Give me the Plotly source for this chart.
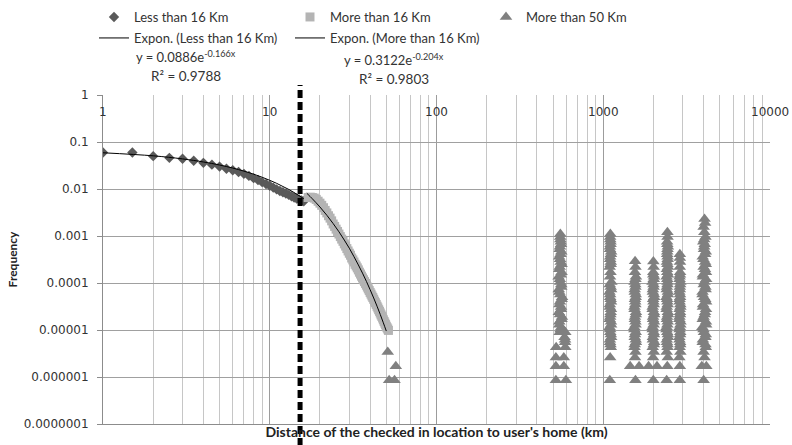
import math
import plotly.graph_objects as go

# ---------------- data ----------------
LT16_X = [1, 1.5, 2, 2.5, 3, 3.5, 4, 4.5, 5, 5.5, 6, 6.5, 7, 7.5, 8, 8.5, 9, 9.5,
          10, 10.5, 11, 11.5, 12, 12.5, 13, 13.5, 14, 14.5, 15, 15.5, 16]
LT16_Y = [0.060, 0.060, 0.050, 0.046, 0.044, 0.040, 0.036, 0.033, 0.030, 0.027,
          0.025, 0.023, 0.021, 0.019, 0.017, 0.0155, 0.014, 0.0128, 0.0117, 0.0107,
          0.0098, 0.0091, 0.0085, 0.0080, 0.0075, 0.0070, 0.0066, 0.0063, 0.0060,
          0.0057, 0.0055]

GT16_X = [17, 17.5, 18, 18.5, 19, 19.5, 20, 20.5, 21, 21.5, 22, 22.5, 23, 23.5,
          24, 24.5, 25, 25.5, 26, 26.5, 27, 27.5, 28, 28.5, 29, 29.5, 30, 30.5,
          31, 31.5, 32, 32.5, 33, 33.5, 34, 34.5, 35, 35.5, 36, 36.5, 37, 37.5,
          38, 38.5, 39, 39.5, 40, 40.5, 41, 41.5, 42, 42.5, 43, 43.5, 44, 44.5,
          45, 45.5, 46, 46.5, 47, 47.5, 48, 48.5, 49, 49.5, 50, 50.5, 51, 51.5]
GT16_Y = [0.0066, 0.0067, 0.0066, 0.0064, 0.0060, 0.0055, 0.0050, 0.0045, 0.0040,
          0.0035, 0.0031, 0.0027, 0.0024, 0.0021, 0.0018, 0.0016, 0.0014, 0.00125,
          0.0011, 0.00097, 0.00086, 0.00077, 0.00068, 0.00061, 0.00054, 0.00048,
          0.00043, 0.00039, 0.00034, 0.00031, 0.00028, 0.00025, 0.00023, 0.00021,
          0.00019, 0.00017, 0.000155, 0.00014, 0.000128, 0.000117, 0.000107,
          0.000098, 0.00009, 0.000082, 0.000075, 0.000069, 0.000063, 0.000058,
          0.000053, 0.000049, 0.000045, 0.000041, 0.000038, 0.000035, 0.000032,
          0.0000295, 0.000027, 0.000025, 0.000023, 0.000021, 0.0000195, 0.000018,
          0.0000165, 0.0000152, 0.000014, 0.000013, 0.000012, 0.0000112,
          0.0000105, 0.0000098]

# "More than 50 Km" clusters (x in km, y frequency)
GT50_C0_X = [51, 57, 52, 56]
GT50_C0_Y = [3.4e-6, 1.7e-6, 8.5e-7, 8.5e-7]

GT50_C1_X = [520, 597, 520, 580, 520, 580, 522, 592, 590, 586, 592, 548, 560, 545,
             565, 542, 558, 550, 566, 545, 560, 552, 540, 562, 548, 556, 544, 560,
             550, 556, 552, 553,
             590, 555, 545, 562, 550, 558, 546, 563, 552, 541, 560, 549, 557, 545,
             562, 551, 555, 548, 558, 553]
GT50_C1_Y = [8.5e-7, 8.5e-7, 1.7e-6, 1.7e-6, 2.6e-6, 2.6e-6, 4.3e-6, 4.3e-6, 5.5e-6,
             7e-6, 9e-6, 9e-6, 1.15e-5, 1.5e-5, 1.9e-5, 2.4e-5, 3.1e-5, 4e-5, 5e-5,
             6.4e-5, 8.2e-5, 1.05e-4, 1.35e-4, 1.7e-4, 2.2e-4, 2.8e-4, 3.6e-4,
             4.6e-4, 5.9e-4, 7.5e-4, 9.5e-4, 1.1e-3,
             6.2e-6, 1.02e-5, 1.3e-5, 1.7e-5, 2.15e-5, 2.75e-5, 3.5e-5, 4.5e-5,
             5.7e-5, 7.3e-5, 9.3e-5, 1.2e-4, 1.5e-4, 1.95e-4, 2.5e-4, 3.2e-4,
             4.1e-4, 5.2e-4, 6.7e-4, 8.4e-4]

GT50_C2_X = [1095, 1100, 1110, 1098, 1115, 1102, 1092, 1112, 1100, 1108, 1095, 1113,
             1100, 1090, 1108, 1118, 1098, 1105, 1093, 1110, 1100, 1115, 1097, 1106,
             1100, 1103,
             1105, 1096, 1110, 1100, 1114, 1094, 1104, 1112, 1096, 1108, 1100, 1115,
             1095, 1108, 1100, 1112, 1098, 1106, 1101]
GT50_C2_Y = [8.5e-7, 2.6e-6, 4.3e-6, 5.5e-6, 7e-6, 9e-6, 1.15e-5, 1.5e-5, 1.9e-5,
             2.4e-5, 3.1e-5, 4e-5, 5e-5, 6.4e-5, 8.2e-5, 1.05e-4, 1.35e-4, 1.7e-4,
             2.2e-4, 2.8e-4, 3.6e-4, 4.6e-4, 5.9e-4, 7.5e-4, 9.5e-4, 1.1e-3,
             4.9e-6, 6.2e-6, 8e-6, 1.02e-5, 1.3e-5, 1.7e-5, 2.15e-5, 2.75e-5, 3.5e-5,
             4.5e-5, 5.7e-5, 7.3e-5, 9.3e-5, 2.5e-4, 3.2e-4, 4.1e-4, 5.2e-4,
             6.7e-4, 8.4e-4]

GT50_C3_X = [1560, 1450, 1640, 1550, 1560, 1540, 1570, 1545, 1565, 1535, 1560, 1550,
             1570, 1540, 1555, 1565, 1545, 1560, 1540, 1570, 1550, 1560, 1552,
             1545, 1565, 1550, 1538, 1562, 1548, 1568, 1542, 1558, 1550, 1565,
             1545, 1556, 1560]
GT50_C3_Y = [8.5e-7, 1.7e-6, 1.7e-6, 2.6e-6, 3.4e-6, 4.3e-6, 5.5e-6, 7e-6, 9e-6,
             1.15e-5, 1.5e-5, 1.9e-5, 2.4e-5, 3.1e-5, 4e-5, 5e-5, 6.4e-5, 8.2e-5,
             1.05e-4, 1.35e-4, 1.7e-4, 2.2e-4, 2.9e-4,
             4.9e-6, 6.2e-6, 8e-6, 1.02e-5, 1.3e-5, 1.7e-5, 2.15e-5, 2.75e-5,
             3.5e-5, 4.5e-5, 5.7e-5, 7.3e-5, 9.3e-5, 1.2e-4]

GT50_C4_X = [1995, 1870, 2100, 1990, 2010, 1980, 2020, 1985, 2005, 1975, 2015, 1990,
             2010, 1980, 2000, 2020, 1985, 2005, 1975, 2015, 1995, 2005, 1998,
             2010, 1985, 2015, 1980, 2005, 1990, 2020, 1978, 2008, 1992, 2012,
             1985, 2000, 2008, 1995]
GT50_C4_Y = [8.5e-7, 1.7e-6, 1.7e-6, 2.6e-6, 3.4e-6, 4.3e-6, 5.5e-6, 7e-6, 9e-6,
             1.15e-5, 1.5e-5, 1.9e-5, 2.4e-5, 3.1e-5, 4e-5, 5e-5, 6.4e-5, 8.2e-5,
             1.05e-4, 1.35e-4, 1.7e-4, 2.2e-4, 2.85e-4,
             4.9e-6, 6.2e-6, 8e-6, 1.02e-5, 1.3e-5, 1.7e-5, 2.15e-5, 2.75e-5,
             3.5e-5, 4.5e-5, 5.7e-5, 7.3e-5, 9.3e-5, 1.2e-4, 1.5e-4]

GT50_C5_X = [2400, 2420, 2440, 2400, 2430, 2410, 2445, 2420, 2400, 2435, 2415, 2440,
             2405, 2425, 2395, 2440, 2410, 2430, 2400, 2420, 2445, 2410, 2430, 2420,
             2440, 2415, 2430, 2425,
             2430, 2405, 2440, 2395, 2425, 2410, 2445, 2400, 2435, 2415, 2440,
             2405, 2430, 2420, 2445, 2410, 2425, 2435, 2418, 2428, 2422]
GT50_C5_Y = [8.5e-7, 1.7e-6, 2.6e-6, 3.4e-6, 4.3e-6, 5.5e-6, 7e-6, 9e-6, 1.15e-5,
             1.5e-5, 1.9e-5, 2.4e-5, 3.1e-5, 4e-5, 5e-5, 6.4e-5, 8.2e-5, 1.05e-4,
             1.35e-4, 1.7e-4, 2.2e-4, 2.8e-4, 3.6e-4, 4.6e-4, 5.9e-4, 7.5e-4,
             9.5e-4, 1.2e-3,
             4.9e-6, 6.2e-6, 8e-6, 1.02e-5, 1.3e-5, 1.7e-5, 2.15e-5, 2.75e-5,
             3.5e-5, 4.5e-5, 5.7e-5, 7.3e-5, 9.3e-5, 1.2e-4, 1.5e-4, 1.95e-4,
             2.5e-4, 3.2e-4, 4.1e-4, 5.2e-4, 6.7e-4]

GT50_C6_X = [2880, 2880, 2860, 2900, 2870, 2890, 2860, 2895, 2875, 2905, 2865, 2885,
             2900, 2870, 2890, 2860, 2880, 2900, 2870, 2890, 2875, 2885, 2880, 2880,
             2895, 2865, 2890, 2870, 2900, 2862, 2888, 2872, 2898, 2868, 2886,
             2878, 2892, 2870, 2884]
GT50_C6_Y = [8.5e-7, 1.7e-6, 2.6e-6, 3.4e-6, 4.3e-6, 5.5e-6, 7e-6, 9e-6, 1.15e-5,
             1.5e-5, 1.9e-5, 2.4e-5, 3.1e-5, 4e-5, 5e-5, 6.4e-5, 8.2e-5, 1.05e-4,
             1.35e-4, 1.7e-4, 2.2e-4, 2.8e-4, 3.4e-4, 4.1e-4,
             4.9e-6, 6.2e-6, 8e-6, 1.02e-5, 1.3e-5, 1.7e-5, 2.15e-5, 2.75e-5,
             3.5e-5, 4.5e-5, 5.7e-5, 7.3e-5, 9.3e-5, 1.2e-4, 1.5e-4]

GT50_C7_X = [4000, 3900, 4150, 4050, 4000, 4120, 3950, 4100, 4020, 3930, 4130, 4000,
             4080, 3960, 4140, 4020, 3940, 4100, 4050, 3960, 4130, 4000, 4080, 3950,
             4120, 4030, 3980, 4100, 4040, 4000, 4080, 4050,
             4100, 3960, 4120, 3990, 4140, 3950, 4060, 4130, 3970, 4090, 3940,
             4110, 4010, 4140, 3960, 4070, 4120, 3990, 4080, 4020, 4060, 4030]
GT50_C7_Y = [8.5e-7, 1.7e-6, 1.7e-6, 2.6e-6, 3.4e-6, 4.3e-6, 5.5e-6, 7e-6, 9e-6,
             1.15e-5, 1.5e-5, 1.9e-5, 2.4e-5, 3.1e-5, 4e-5, 5e-5, 6.4e-5, 8.2e-5,
             1.05e-4, 1.35e-4, 1.7e-4, 2.2e-4, 2.8e-4, 3.6e-4, 4.6e-4, 5.9e-4,
             7.5e-4, 9.5e-4, 1.2e-3, 1.55e-3, 1.9e-3, 2.3e-3,
             4.9e-6, 6.2e-6, 8e-6, 1.02e-5, 1.3e-5, 1.7e-5, 2.15e-5, 2.75e-5,
             3.5e-5, 4.5e-5, 5.7e-5, 7.3e-5, 9.3e-5, 1.2e-4, 1.5e-4, 1.95e-4,
             2.5e-4, 3.2e-4, 4.1e-4, 5.2e-4, 6.7e-4, 8.4e-4]

TREND1_X = [1, 2, 3, 4, 5, 6, 7, 8, 9, 10, 11, 12, 13, 14, 15, 16]
TREND1_Y = [0.0590, 0.0508, 0.0437, 0.0376, 0.0324, 0.0279, 0.0240, 0.0207, 0.0178,
            0.0153, 0.0132, 0.0113, 0.0098, 0.0084, 0.0072, 0.0062]

TREND2_X = [16.7, 18, 20, 22, 24, 26, 28, 30, 32, 34, 36, 38, 40, 42, 44, 46, 48, 50]
TREND2_Y = [0.00809, 0.00620, 0.00414, 0.00276, 0.00184, 0.00123, 0.00082, 0.00055,
            0.000363, 0.000242, 0.000162, 0.000108, 0.000072, 0.000048, 0.000032,
            0.0000214, 0.0000142, 0.0000095]

X_TICKS = [1, 10, 100, 1000, 10000]
X_TICK_LABELS = ["1", "10", "100", "1000", "10000"]
Y_TICKS = [1, 0.1, 0.01, 0.001, 0.0001, 0.00001, 0.000001, 0.0000001]
Y_TICK_LABELS = ["1", "0.1", "0.01", "0.001", "0.0001", "0.00001", "0.000001", "0.0000001"]
THRESHOLD_X = 15.2

EQ1 = ("y = 0.0886e<sup>-0.166x</sup>", "R² = 0.9788")
EQ2 = ("y = 0.3122e<sup>-0.204x</sup>", "R² = 0.9803")

# ---------------- figure ----------------
FONT = "Lato"
TICKFONT = "DejaVu Sans"
TXT = "#333333"

# plot-area geometry in page pixels
L, R, T, B = 103, 770, 95, 424
PW, PH = R - L, B - T


def px(xp):
    return (xp - L) / PW


def py(yp):
    return (B - yp) / PH


fig = go.Figure()

gt50_x = (GT50_C0_X + GT50_C1_X + GT50_C2_X + GT50_C3_X + GT50_C4_X + GT50_C5_X
          + GT50_C6_X + GT50_C7_X)
gt50_y = (GT50_C0_Y + GT50_C1_Y + GT50_C2_Y + GT50_C3_Y + GT50_C4_Y + GT50_C5_Y
          + GT50_C6_Y + GT50_C7_Y)

fig.add_trace(go.Scatter(x=LT16_X, y=LT16_Y, mode="markers", name="Less than 16 Km",
                         marker=dict(symbol="diamond", size=8, color="#5a5a5a"),
                         legend="legend"))
fig.add_trace(go.Scatter(x=GT16_X, y=GT16_Y, mode="markers", name="More than 16 Km",
                         marker=dict(symbol="square", size=9, color="#b4b4b4"),
                         legend="legend"))
fig.add_trace(go.Scatter(x=gt50_x, y=gt50_y, mode="markers", name="More than 50 Km",
                         marker=dict(symbol="triangle-up", size=11, color="#808080"),
                         legend="legend"))
fig.add_trace(go.Scatter(x=TREND1_X, y=TREND1_Y, mode="lines",
                         name="Expon. (Less than 16 Km)",
                         line=dict(color="black", width=1, shape="spline"),
                         legend="legend2"))
fig.add_trace(go.Scatter(x=TREND2_X, y=TREND2_Y, mode="lines",
                         name="Expon. (More than 16 Km)",
                         line=dict(color="black", width=1, shape="spline"),
                         legend="legend2"))

minor_x = [m * 10 ** e for e in range(0, 4) for m in range(2, 10)]

fig.update_xaxes(type="log", range=[0, 4], showgrid=True, gridcolor="#9c9c9c",
                 gridwidth=1, tickvals=X_TICKS, showticklabels=False, ticks="",
                 minor=dict(tickvals=minor_x, showgrid=True, gridcolor="#c6c6c6",
                            gridwidth=1, ticks=""),
                 showline=True, linecolor="#8c8c8c", linewidth=1, zeroline=False,
                 title=dict(text="<b>Distance of the checked in location to user's home (km)</b>",
                            font=dict(family=FONT, size=14, color="#222"), standoff=3))
fig.update_yaxes(type="log", range=[-7, 0], showgrid=True, gridcolor="#a0a0a0",
                 gridwidth=1, tickvals=Y_TICKS, ticktext=Y_TICK_LABELS,
                 ticks="outside", ticklen=5, tickcolor="#8c8c8c",
                 tickfont=dict(family=TICKFONT, size=12, color=TXT),
                 ticklabelstandoff=6,
                 showline=True, linecolor="#8c8c8c", linewidth=1, zeroline=False,
                 title=dict(text="<b>Frequency</b>",
                            font=dict(family=FONT, size=12, color="#222"), standoff=3))

annotations = []
for v, t in zip(X_TICKS, X_TICK_LABELS):
    annotations.append(dict(x=math.log10(v), y=py(112), xref="x", yref="paper",
                            xanchor="center", yanchor="middle", text=t, showarrow=False,
                            font=dict(family=TICKFONT, size=12, color=TXT)))


def eq_annots(eq, xc, y1, y2):
    return [dict(x=px(xc), y=py(y1), xref="paper", yref="paper",
                 xanchor="center", yanchor="middle", text=eq[0], showarrow=False,
                 font=dict(family=FONT, size=13, color=TXT)),
            dict(x=px(xc), y=py(y2), xref="paper", yref="paper",
                 xanchor="center", yanchor="middle", text=eq[1], showarrow=False,
                 font=dict(family=FONT, size=13.5, color=TXT))]


annotations += eq_annots(EQ1, 186, 57, 76)
annotations += eq_annots(EQ2, 394, 60, 79)

fig.update_layout(
    width=792, height=445,
    margin=dict(l=L, r=792 - R, t=T, b=445 - B, autoexpand=False),
    paper_bgcolor="white", plot_bgcolor="white",
    showlegend=True,
    legend=dict(orientation="h", x=px(94), y=py(2),
                xanchor="left", yanchor="top", entrywidth=151, entrywidthmode="pixels",
                font=dict(family=FONT, size=13, color=TXT), bgcolor="rgba(0,0,0,0)"),
    legend2=dict(orientation="h", x=px(94), y=py(23),
                 xanchor="left", yanchor="top", entrywidth=151, entrywidthmode="pixels",
                 font=dict(family=FONT, size=13, color=TXT), bgcolor="rgba(0,0,0,0)"),
    annotations=annotations,
    shapes=[dict(type="line", xref="x", yref="paper", x0=THRESHOLD_X, x1=THRESHOLD_X,
                 y0=py(446), y1=py(85), layer="above",
                 line=dict(color="black", width=5, dash="8px,4px"))],
)

fig.write_html("out.html", config={"displayModeBar": False},
               post_script="document.body.style.margin='0px';")
